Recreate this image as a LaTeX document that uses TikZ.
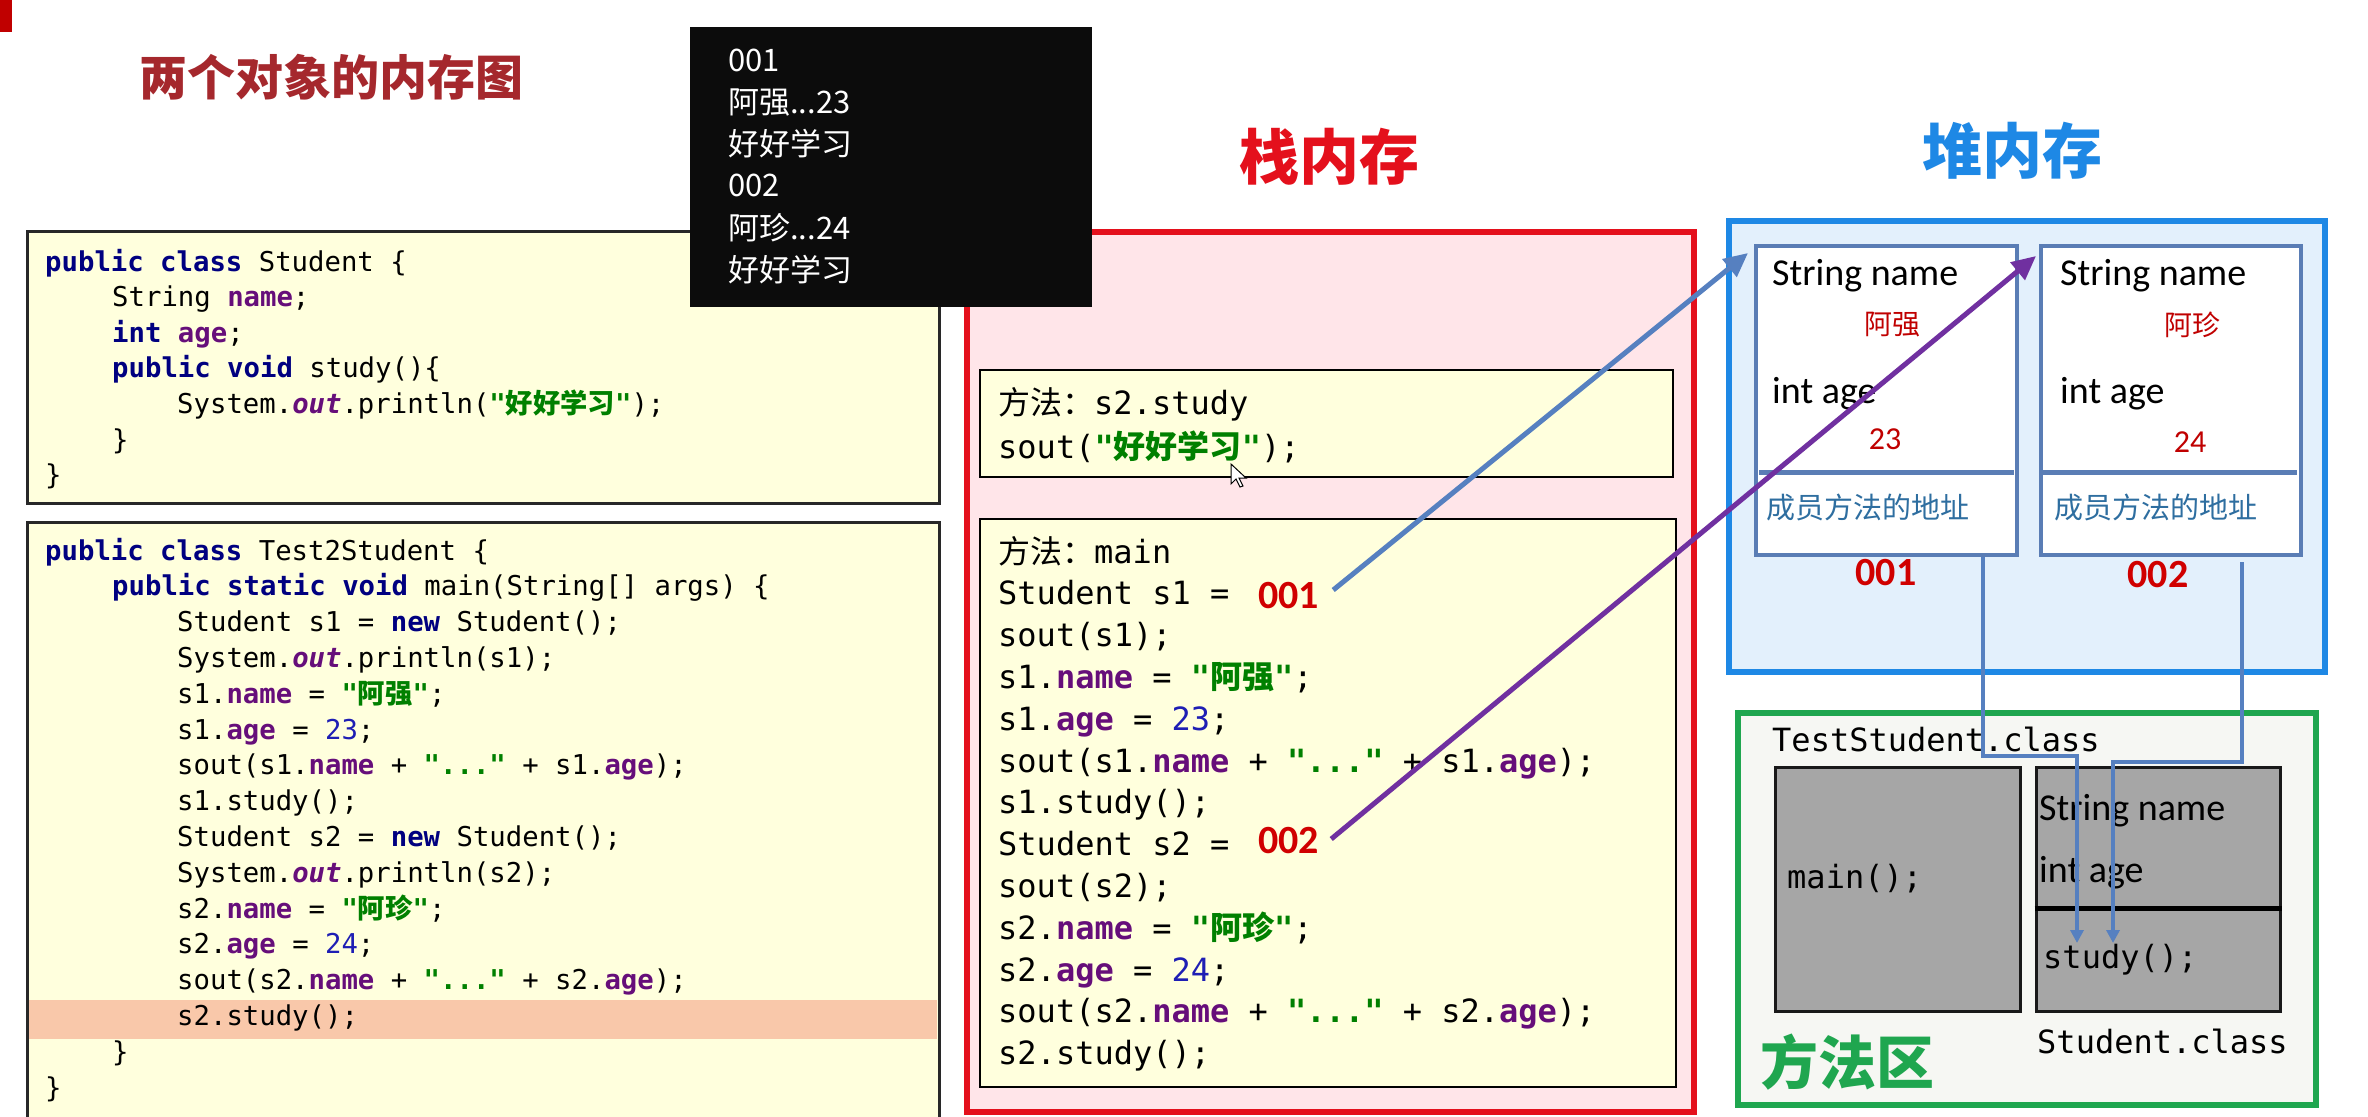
\documentclass[tikz,border=0pt]{standalone}
\usepackage{fontspec}
\setmonofont{DejaVu Sans Mono}
\newfontfamily\cjk{Noto Sans CJK SC}
\newfontfamily\carl{Carlito}
\usetikzlibrary{arrows.meta,calc,fit}
\definecolor{kwc}{RGB}{0,0,128}
\definecolor{fdc}{RGB}{102,14,122}
\definecolor{stc}{RGB}{0,128,0}
\definecolor{nmc}{RGB}{30,30,180}
\definecolor{codebg}{RGB}{255,255,221}
\definecolor{codeline}{RGB}{40,40,40}
\definecolor{grayline}{RGB}{25,25,25}
\definecolor{markred}{RGB}{192,0,0}
\definecolor{hlc}{RGB}{249,200,170}
\definecolor{titlered}{RGB}{165,40,45}
\definecolor{stackred}{RGB}{228,16,28}
\definecolor{stackbg}{RGB}{255,229,233}
\definecolor{heapblue}{RGB}{30,136,229}
\definecolor{heapbg}{RGB}{227,240,252}
\definecolor{objblue}{RGB}{90,125,181}
\definecolor{addrred}{RGB}{208,0,0}
\definecolor{valred}{RGB}{192,0,0}
\definecolor{memblue}{RGB}{46,110,160}
\definecolor{mgreen}{RGB}{31,166,79}
\definecolor{mbg}{RGB}{246,247,243}
\definecolor{grayfill}{RGB}{166,166,166}
\definecolor{arrblue}{RGB}{86,128,192}
\definecolor{arrpurple}{RGB}{112,48,160}
\definecolor{consolebg}{RGB}{12,12,12}
\newcommand\codefont{\ttfamily\fontsize{27.3}{33}\selectfont}
\newcommand\stkfont{\ttfamily\fontsize{32}{38}\selectfont}
\newcommand\ckw[1]{{\bfseries\color{kwc}#1}}
\newcommand\cfd[1]{{\bfseries\color{fdc}#1}}
\newcommand\cst[1]{{\bfseries\color{stc}#1}}
\newcommand\cnm[1]{{\color{nmc}#1}}
\newcommand\cout{{\bfseries\itshape\color{fdc}out}}
\newcommand\zh[1]{{\cjk #1}}
\tikzset{
  cl/.style={font=\codefont, anchor=mid west, inner sep=0, text=black, yshift=-7pt},
  sl/.style={font=\stkfont, anchor=mid west, inner sep=0, text=black, yshift=-9pt},
  codebox/.style={draw=codeline, line width=3pt, fill=codebg, inner sep=0},
  stkbox/.style={draw=black, line width=2.5pt, fill=codebg, inner sep=0},
  objbox/.style={draw=objblue, line width=4pt, fill=white, inner sep=0},
  graybox/.style={draw=grayline, line width=3pt, fill=grayfill, inner sep=0},
  fieldtxt/.style={font=\carl\fontsize{38}{41}\selectfont, anchor=mid west, inner sep=0, yshift=-8pt},
  valtxt/.style={font=\carl\fontsize{32}{36}\selectfont, text=valred, inner sep=0},
  zhval/.style={font=\cjk\fontsize{28}{32}\selectfont, text=valred, inner sep=0},
  memtxt/.style={font=\cjk\fontsize{29}{32}\selectfont, text=memblue, anchor=west, inner sep=0},
  addr/.style={font=\carl\bfseries\fontsize{40}{44}\selectfont, text=addrred, inner sep=0},
  contxt/.style={font=\cjk\fontsize{31}{36}\selectfont, text=white, anchor=west, inner sep=0},
  bigtitle/.style={font=\cjk\bfseries\fontsize{60}{64}\selectfont, inner sep=0},
  barrow/.style={draw=arrblue, line width=5pt, -{Triangle[length=24pt,width=22pt]}},
  parrow/.style={draw=arrpurple, line width=5pt, -{Triangle[length=24pt,width=22pt]}},
  conn/.style={draw=arrblue, line width=4pt, -{Triangle[length=13pt,width=13pt]}},
}
\begin{document}
\begin{tikzpicture}[x=1pt,y=-1pt]
\useasboundingbox (0,0) rectangle (2368,1116);
\fill[white] (0,0) rectangle (2368,1116);
% corner mark
\fill[markred] (0,0) rectangle (12,32);
% title
\node[font=\cjk\bfseries\fontsize{48}{52}\selectfont, text=titlered, anchor=west, inner sep=0] (title) at (139,77) {两个对象的内存图};

% ---------- code box 1 ----------
\node[codebox, fit={(27,231)(939,503)}] (code1) {};
\node[cl] (a0) at (45,262) {\ckw{public class} Student \{};
\node[cl] (a1) at (112,297.6) {String \cfd{name};};
\node[cl] (a2) at (112,333.2) {\ckw{int} \cfd{age};};
\node[cl] (a3) at (112,368.8) {\ckw{public void} study()\{};
\node[cl] (a4) at (177,404.4) {System.\cout.println(\cst{"\zh{好好学习}"});};
\node[cl] (a5) at (112,440) {\}};
\node[cl] (a6) at (45,475.6) {\}};

% ---------- code box 2 ----------
\node[codebox, fit={(27,522)(939,1140)}] (code2) {};
\fill[hlc] (29,1000) rectangle (937,1039);
\node[cl] (b0) at (45,551) {\ckw{public class} Test2Student \{};
\node[cl] (b1) at (112,586.8) {\ckw{public static void} main(String[] args) \{};
\node[cl] (b2) at (177,622.6) {Student s1 = \ckw{new} Student();};
\node[cl] (b3) at (177,658.4) {System.\cout.println(s1);};
\node[cl] (b4) at (177,694.2) {s1.\cfd{name} = \cst{"\zh{阿强}"};};
\node[cl] (b5) at (177,730) {s1.\cfd{age} = \cnm{23};};
\node[cl] (b6) at (177,765.8) {sout(s1.\cfd{name} + \cst{"..."} + s1.\cfd{age});};
\node[cl] (b7) at (177,801.6) {s1.study();};
\node[cl] (b8) at (177,837.4) {Student s2 = \ckw{new} Student();};
\node[cl] (b9) at (177,873.2) {System.\cout.println(s2);};
\node[cl] (b10) at (177,909) {s2.\cfd{name} = \cst{"\zh{阿珍}"};};
\node[cl] (b11) at (177,944.8) {s2.\cfd{age} = \cnm{24};};
\node[cl] (b12) at (177,980.6) {sout(s2.\cfd{name} + \cst{"..."} + s2.\cfd{age});};
\node[cl] (b13) at (177,1016.4) {s2.study();};
\node[cl] (b14) at (112,1052.2) {\}};
\node[cl] (b15) at (45,1088) {\}};

% ---------- stack ----------
\node[bigtitle, text=stackred] (stacktitle) at (1329,157) {栈内存};
\node[draw=stackred, line width=6pt, fill=stackbg, inner sep=0, fit={(967,232)(1694,1112)}] (stack) {};
\node[stkbox, fit={(980,370)(1673,477)}] (frame1) {};
\node[sl] (f0) at (998,403) {\zh{方法：}s2.study};
\node[sl] (f1) at (998,447) {sout(\cst{"\zh{好好学习}"});};
\node[stkbox, fit={(980,519)(1676,1087)}] (frame2) {};
\node[sl] (m0) at (998,552) {\zh{方法：}main};
\node[sl] (m1) at (998,593.8) {Student s1 =};
\node[addr, anchor=west] (s1v) at (1258,596) {001};
\node[sl] (m2) at (998,635.6) {sout(s1);};
\node[sl] (m3) at (998,677.4) {s1.\cfd{name} = \cst{"\zh{阿强}"};};
\node[sl] (m4) at (998,719.2) {s1.\cfd{age} = \cnm{23};};
\node[sl] (m5) at (998,761) {sout(s1.\cfd{name} + \cst{"..."} + s1.\cfd{age});};
\node[sl] (m6) at (998,802.8) {s1.study();};
\node[sl] (m7) at (998,844.6) {Student s2 =};
\node[addr, anchor=west] (s2v) at (1258,841) {002};
\node[sl] (m8) at (998,886.4) {sout(s2);};
\node[sl] (m9) at (998,928.2) {s2.\cfd{name} = \cst{"\zh{阿珍}"};};
\node[sl] (m10) at (998,970) {s2.\cfd{age} = \cnm{24};};
\node[sl] (m11) at (998,1011.8) {sout(s2.\cfd{name} + \cst{"..."} + s2.\cfd{age});};
\node[sl] (m12) at (998,1053.6) {s2.study();};
% cursor
\filldraw[fill=white, draw=black, line width=1pt] (1231,464) -- (1231,484) -- (1236,479) -- (1240,487) -- (1243,486) -- (1239,478) -- (1246,478) -- cycle;

% ---------- console ----------
\node[fill=consolebg, inner sep=0, fit={(690,27)(1092,307)}] (console) {};
\node[contxt] (o1) at (728,60) {001};
\node[contxt] (o2) at (728,102) {阿强...23};
\node[contxt] (o3) at (728,144) {好好学习};
\node[contxt] (o4) at (728,185.5) {002};
\node[contxt] (o5) at (728,227.5) {阿珍...24};
\node[contxt] (o6) at (728,269.5) {好好学习};

% ---------- heap ----------
\node[bigtitle, text=heapblue] (heaptitle) at (2012,151) {堆内存};
\node[draw=heapblue, line width=6pt, fill=heapbg, inner sep=0, fit={(1729,221)(2325,672)}] (heap) {};
\node[objbox, fit={(1756,246)(2017,555)}] (h1) {};
\node[objbox, fit={(2041,246)(2301,555)}] (h2) {};
\draw[objblue, line width=5pt] ($(h1.north west)+(5,228)$) -- ($(h1.north east)+(-5,228)$);
\draw[objblue, line width=5pt] ($(h2.north west)+(4,228)$) -- ($(h2.north east)+(-6,228)$);
\node[fieldtxt] (h1n) at (1772,275) {String name};
\node[zhval] (h1nv) at (1892,325) {阿强};
\node[fieldtxt] (h1a) at (1772,393) {int age};
\node[valtxt] (h1av) at (1885,439) {23};
\node[memtxt] (h1m) at (1766,507) {成员方法的地址};
\node[addr] (h1id) at (1886,573) {001};
\node[fieldtxt] (h2n) at (2060,275) {String name};
\node[zhval] (h2nv) at (2192,325) {阿珍};
\node[fieldtxt] (h2a) at (2060,393) {int age};
\node[valtxt] (h2av) at (2190,442) {24};
\node[memtxt] (h2m) at (2054,507) {成员方法的地址};
\node[addr] (h2id) at (2158,575) {002};

% ---------- method area ----------
\node[draw=mgreen, line width=6pt, fill=mbg, inner sep=0, fit={(1738,713)(2316,1105)}] (marea) {};
\node[sl] (tsc) at (1772,740) {TestStudent.class};
\node[graybox, fit={(1775,767)(2020,1011)}] (mainbox) {};
\node[graybox, fit={(2036,767)(2280,1011)}] (stubox) {};
\draw[black, line width=5pt] ($(stubox.north west)+(0,143)$) -- ($(stubox.north east)+(0,143)$);
\node[sl] (mainm) at (1787,877) {main();};
\node[fieldtxt] (sn) at (2039,810) {String name};
\node[fieldtxt] (sa) at (2039,872) {int age};
\node[sl] (sm) at (2043,957) {study();};
\node[sl] (stc) at (2037,1042) {Student.class};
\node[font=\cjk\bfseries\fontsize{58}{62}\selectfont, text=mgreen, anchor=west, inner sep=0] (matitle) at (1760,1062) {方法区};

% ---------- connectors ----------
\draw[barrow] ($(s1v.east)+(14,-6)$) -- ($(h1.north west)+(-6,9)$);
\draw[parrow] ($(s2v.east)+(12,-2)$) -- ($(h2.north west)+(-3,12)$);
\coordinate (t1) at (2077,943);
\coordinate (t2) at (2113,943);
\draw[conn] ($(h1.south east)+(-36,0)$) -- ++(0,199) -| (t1);
\draw[conn] ($(h2.south east)+(-61,5)$) -- ++(0,200) -| (t2);
\end{tikzpicture}
\end{document}
